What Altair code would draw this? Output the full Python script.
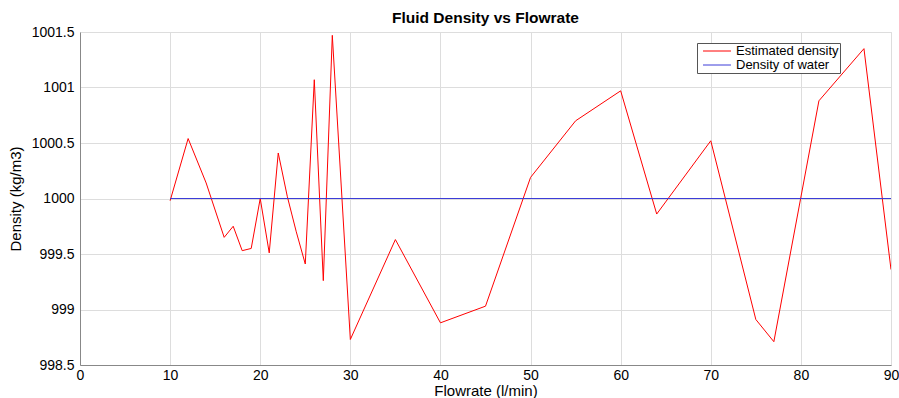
import altair as alt
import pandas as pd

flow = [10, 12, 14, 16, 17, 18, 19, 20, 21, 22, 23, 23.5, 24, 25, 26, 27, 28, 30,
        35, 40, 45, 50, 55, 60, 64, 70, 75, 77, 82, 87, 90]
density = [999.98, 1000.54, 1000.14, 999.65, 999.75, 999.53, 999.55, 1000.0, 999.51,
           1000.41, 1000.02, 999.86, 999.70, 999.41, 1001.07, 999.26, 1001.47, 998.73,
           999.63, 998.88, 999.03, 1000.19, 1000.70, 1000.97, 999.86, 1000.52, 998.91,
           998.71, 1000.88, 1001.35, 999.36]
water_flow = [10, 90]
water_density = [1000, 1000]
series = ["Estimated density", "Density of water"]
colors = ["#ff0000", "#3c3cd8"]

df = pd.concat([
    pd.DataFrame({"flow": flow, "density": density, "series": series[0], "order": range(len(flow))}),
    pd.DataFrame({"flow": water_flow, "density": water_density, "series": series[1], "order": range(2)}),
])

FONT = "Liberation Sans"

chart = alt.Chart(df).mark_line(strokeWidth=1, clip=True).encode(
    x=alt.X("flow:Q", title="Flowrate (l/min)",
            scale=alt.Scale(domain=[0, 90], nice=False),
            axis=alt.Axis(values=list(range(0, 91, 10)), ticks=False, labelFontSize=14,
                          labelPadding=3, titleFontSize=15, titlePadding=1,
                          titleFontWeight="normal", labelFlush=False)),
    y=alt.Y("density:Q", title="Density (kg/m3)",
            scale=alt.Scale(domain=[998.5, 1001.5], nice=False, zero=False),
            axis=alt.Axis(values=[998.5, 999, 999.5, 1000, 1000.5, 1001, 1001.5],
                          format="~g", ticks=False, labelFontSize=14, labelPadding=6,
                          titleFontSize=15, titlePadding=8, titleFontWeight="normal")),
    color=alt.Color("series:N", sort=series,
                    scale=alt.Scale(domain=series, range=colors),
                    legend=alt.Legend(title=None, orient="none", legendX=617, legendY=11,
                                      symbolType="M-2.15,0L2.15,0", symbolSize=169,
                                      symbolStrokeWidth=1, symbolOffset=12,
                                      labelFontSize=13, labelFont=FONT, padding=1,
                                      strokeColor="#555", fillColor="white", rowPadding=0,
                                      labelOffset=12, labelLimit=200)),
    detail="series:N",
    order="order:Q",
).properties(
    width=811, height=333,
    title=alt.Title("Fluid Density vs Flowrate", fontSize=15.5, fontWeight="bold",
                    font=FONT, offset=-1, anchor="middle", color="black"),
    padding={"left": 80, "top": 32, "right": 8, "bottom": 33},
    autosize=alt.AutoSizeParams(type="none"),
).configure_axis(
    labelFont=FONT, titleFont=FONT, labelColor="#222", titleColor="#222",
    domainColor="#888", gridColor="#e3e3e3", grid=True,
).configure_view(
    stroke="#888", strokeWidth=1,
).configure(background="white")

chart.save("out.html", embed_options={"renderer": "svg", "actions": False})
